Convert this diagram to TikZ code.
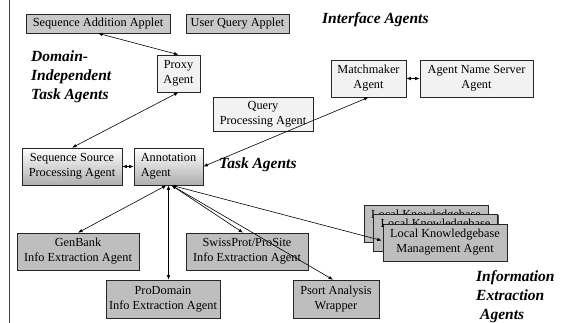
\documentclass[tikz,border=0pt]{standalone}
\usepackage{fontspec}
\setmainfont{Liberation Serif}
\usetikzlibrary{arrows.meta,shadows,calc}
\definecolor{appletgray}{HTML}{C8C8C8}
\definecolor{lightbox}{HTML}{F2F2F2}
\definecolor{infogray}{HTML}{BEBEBE}
\begin{document}
\begin{tikzpicture}[x=1pt,y=-1pt,
  sz/.style 2 args={minimum width=#1pt, minimum height=#2pt},
  basebox/.style={draw=black!85, line width=0.6pt, inner sep=1pt, align=center,
    font=\fontsize{12.3}{15}\selectfont,
    drop shadow={shadow xshift=1.4pt, shadow yshift=-1.4pt, opacity=1, fill=black!70}},
  applet/.style={basebox, fill=appletgray},
  lightbox/.style={basebox, fill=lightbox},
  gradbox/.style={basebox, top color=white, bottom color=black!32},
  infobox/.style={basebox, fill=infogray},
  grouplabel/.style={inner sep=0pt, align=left, font=\fontsize{15.5}{19}\selectfont\bfseries\itshape},
  link/.style={line width=0.6pt, {Latex[length=4.5pt,width=3.5pt]}-{Latex[length=4.5pt,width=3.5pt]}}
]
\useasboundingbox (0,0) rectangle (567,323);
\draw[black!75, line width=0.8pt] (9,0) -- (9,323);

% interface agents
\node[applet, sz={144}{19}] (saa) at (98,23.5) {Sequence Addition Applet};
\node[applet, sz={103}{19}] (uqa) at (237.5,23.5) {User Query Applet};
\node[grouplabel, anchor=west] (lint) at (322,20) {Interface Agents};

% domain-independent task agents
\node[grouplabel, anchor=west] (ldom) at (31,77) {Domain-\\Independent\\Task Agents};
\node[lightbox, sz={43}{37}] (proxy) at (178.5,73.5) {Proxy\\Agent};
\node[lightbox, sz={100}{34}] (qpa) at (263,114) {Query\\Processing Agent};
\node[lightbox, sz={75}{37}] (mm) at (368.5,78.5) {Matchmaker\\Agent};
\node[lightbox, sz={113}{37}] (ans) at (476.5,78.5) {Agent Name Server\\Agent};

% task agents
\node[gradbox, sz={100}{37}] (ssp) at (72,166.5) {Sequence Source\\Processing Agent};
\node[gradbox, sz={69}{37}, align=left] (ann) at (168.5,166.5) {Annotation\\Agent};
\node[grouplabel, anchor=west] (ltask) at (219,164.5) {Task Agents};

% information extraction agents
\node[infobox, sz={122}{37}] (gb) at (78,251.5) {GenBank\\Info Extraction Agent};
\node[infobox, sz={122}{37}] (sp) at (247,251.5) {SwissProt/ProSite\\Info Extraction Agent};
\node[infobox, sz={114}{38}] (pd) at (163,299) {ProDomain\\Info Extraction Agent};
\node[infobox, sz={86}{38}] (ps) at (336,299) {Psort Analysis\\Wrapper};
\node[infobox, sz={124}{37}] (lkbc) at (426,223.5) {Local Knowledgebase\\Management Agent};
\node[infobox, sz={124}{37}] (lkbb) at (435.5,232.5) {Local Knowledgebase\\Management Agent};
\node[infobox, sz={124}{37}] (lkba) at (445,242.5) {Local Knowledgebase\\Management Agent};
\node[grouplabel, anchor=west] (linfo) at (476,297) {Information\\Extraction\\\hspace{4pt}Agents};

% connectors
\draw[link] (saa.south) -- (proxy.north);
\draw[link] (ssp.north) -- (proxy.south);
\draw[link] (ssp.east) -- (ann.west);
\draw[link] (mm.east) -- (ans.west);
\draw[link] (ann.east) -- (mm.south);
\draw[link] ($(ann.south)+(-2,0)$) -- (gb.north);
\draw[link] (ann.south) -- (ann.south |- pd.north);
\draw[link] ($(ann.south)+(3,0)$) -- ($(sp.north)+(-4,0)$);
\draw[link] ($(ann.south)+(3,0)$) -- ($(ps.north)+(-3,0)$);
\draw[link] ($(ann.south)+(3,0)$) -- ($(lkba.west)+(-1,-2)$);
\end{tikzpicture}
\end{document}
